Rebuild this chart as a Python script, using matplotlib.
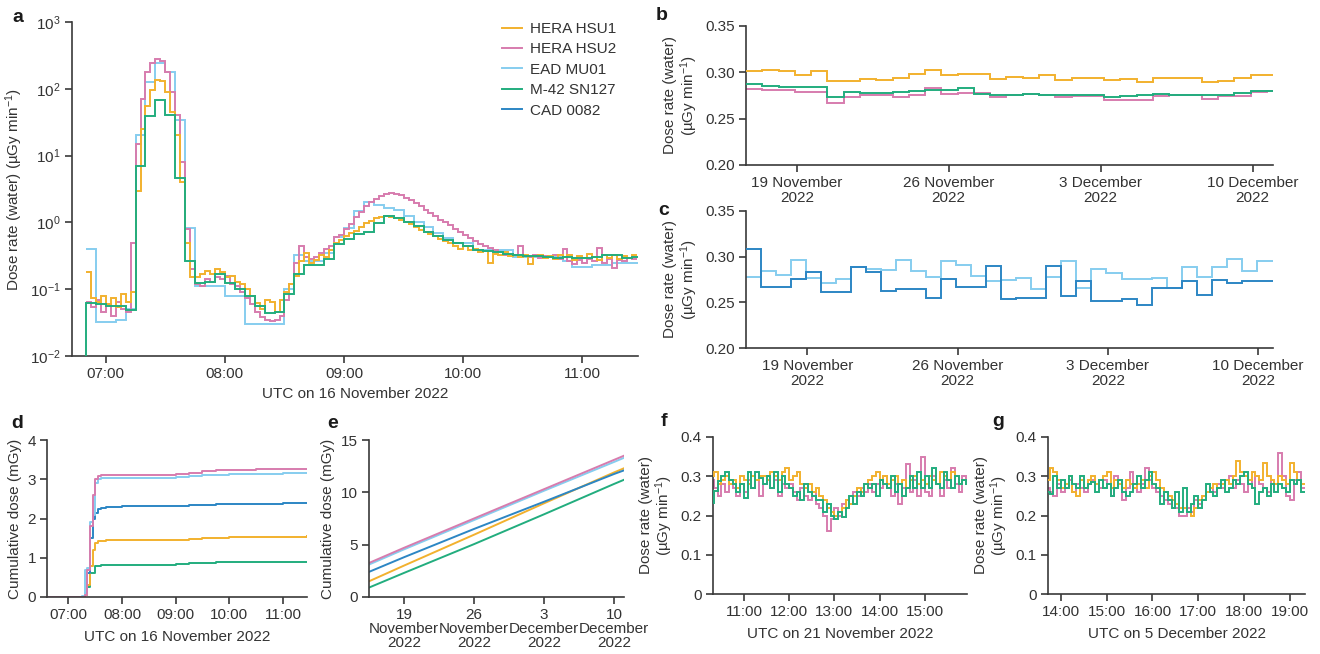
import numpy as np
import matplotlib
matplotlib.use('Agg')
import matplotlib.pyplot as plt

plt.rcParams['font.family'] = ['Liberation Sans', 'DejaVu Sans']
plt.rcParams['mathtext.default'] = 'regular'

# ---------------- DATA ----------------
names = ['HERA HSU1', 'HERA HSU2', 'EAD MU01', 'M-42 SN127', 'CAD 0082']
col_orange, col_pink, col_light, col_green, col_dark = '#F2B12E', '#D77CAE', '#86CDEF', '#22AD7E', '#2C86C4'

# panel a: dose rate on 16 Nov 2022 (uGy/min); hours UTC
a_fine_start = 6 + 50 / 60      # 2.5-min bins
a_fine_step = 2.5 / 60
a_orange = [0.18, 0.075, 0.065, 0.08, 0.06, 0.075, 0.055, 0.085, 0.065, 0.09,
            3.0, 25, 55, 95, 135, 130, 90, 45, 20, 4,
            0.5, 0.15, 0.15, 0.17, 0.19, 0.17, 0.20, 0.18, 0.15, 0.16,
            0.13, 0.12, 0.10, 0.08, 0.063, 0.05, 0.07, 0.065, 0.045, 0.07,
            0.09, 0.12, 0.16, 0.26, 0.35, 0.25, 0.27, 0.32, 0.30, 0.38,
            0.50, 0.55, 0.62, 0.70, 0.75, 0.85, 0.98, 1.05, 1.15, 1.22,
            1.25, 1.22, 1.18, 1.10, 1.02, 0.95, 0.85, 0.78, 0.72, 0.66,
            0.62, 0.56, 0.52, 0.50, 0.45, 0.40, 0.44, 0.38, 0.40, 0.36,
            0.37, 0.25, 0.34, 0.33, 0.36, 0.31, 0.33, 0.30, 0.32, 0.24,
            0.31, 0.33, 0.29, 0.31, 0.28, 0.32, 0.30, 0.33, 0.27, 0.31,
            0.29, 0.34, 0.30, 0.27, 0.32, 0.29, 0.33, 0.28, 0.31, 0.29, 0.32]
a_pink = [0.065, 0.055, 0.07, 0.045, 0.06, 0.04, 0.065, 0.05, 0.045, 0.5,
          15, 70, 180, 240, 275, 265, 180, 90, 40, 8,
          0.8, 0.2, 0.12, 0.11, 0.14, 0.13, 0.15, 0.14, 0.16, 0.12,
          0.11, 0.09, 0.075, 0.06, 0.045, 0.038, 0.035, 0.033, 0.035, 0.04,
          0.07, 0.12, 0.25, 0.45, 0.30, 0.28, 0.30, 0.35, 0.40, 0.45,
          0.60, 0.65, 0.80, 0.95, 1.20, 1.45, 1.75, 2.00, 2.25, 2.45,
          2.65, 2.75, 2.70, 2.55, 2.35, 2.15, 1.95, 1.75, 1.55, 1.40,
          1.25, 1.10, 1.00, 0.90, 0.80, 0.72, 0.65, 0.58, 0.52, 0.48,
          0.45, 0.42, 0.38, 0.36, 0.33, 0.34, 0.32, 0.45, 0.31, 0.30,
          0.33, 0.29, 0.31, 0.30, 0.32, 0.28, 0.40, 0.26, 0.24, 0.27,
          0.25, 0.28, 0.26, 0.42, 0.25, 0.28, 0.21, 0.27, 0.26, 0.29, 0.28]
a_coarse_step = 5 / 60          # 5-min bins
a_green_start = 6 + 45 / 60
a_green = [0.001, 0.063, 0.060, 0.057, 0.057, 0.048, 6.9, 39, 68, 40, 4.6,
           0.26, 0.125, 0.13, 0.17, 0.125, 0.10, 0.08, 0.056, 0.044, 0.045,
           0.085, 0.17, 0.23, 0.23, 0.28, 0.48, 0.56, 0.66, 0.73, 0.98,
           1.23, 1.17, 1.03, 0.89, 0.73, 0.63, 0.55, 0.50, 0.44, 0.39,
           0.37, 0.36, 0.34, 0.32, 0.31, 0.31, 0.30, 0.29, 0.30, 0.29,
           0.29, 0.30, 0.33, 0.33, 0.29, 0.30]
a_light_start = 6 + 50 / 60
a_light = [0.40, 0.032, 0.032, 0.034, 0.05, 20, 127, 240, 180, 34,
           0.83, 0.11, 0.11, 0.11, 0.079, 0.079, 0.030, 0.030, 0.030, 0.030,
           0.10, 0.33, 0.26, 0.26, 0.35, 0.60, 0.82, 1.5, 1.99, 1.83,
           1.64, 1.55, 1.23, 1.0, 0.84, 0.69, 0.58, 0.49, 0.49, 0.39,
           0.39, 0.39, 0.38, 0.30, 0.30, 0.30, 0.30, 0.30, 0.26, 0.215,
           0.215, 0.23, 0.23, 0.25, 0.25, 0.25]
a_xticks = [7, 8, 9, 10, 11]
a_xticklabels = ['07:00', '08:00', '09:00', '10:00', '11:00']
a_yticks = [1e-2, 1e-1, 1e0, 1e1, 1e2, 1e3]
a_yticklabels = ['10$^{-2}$', '10$^{-1}$', '10$^{0}$', '10$^{1}$', '10$^{2}$', '10$^{3}$']

# panel b: HERA HSU1, HERA HSU2, M-42 (day of November; December = 30 + day)
b_start = 16.66
b_step = 0.75
b_orange = [0.301, 0.303, 0.301, 0.297, 0.301, 0.291, 0.291, 0.293, 0.292, 0.294,
            0.298, 0.302, 0.297, 0.298, 0.298, 0.293, 0.295, 0.294, 0.297, 0.292,
            0.294, 0.294, 0.292, 0.293, 0.290, 0.294, 0.294, 0.294, 0.290, 0.291,
            0.294, 0.297, 0.297]
b_green = [0.287, 0.285, 0.284, 0.284, 0.284, 0.273, 0.279, 0.278, 0.278, 0.279,
           0.280, 0.281, 0.281, 0.283, 0.277, 0.275, 0.276, 0.277, 0.276, 0.276,
           0.275, 0.275, 0.273, 0.274, 0.276, 0.277, 0.276, 0.275, 0.275, 0.276,
           0.278, 0.280, 0.280]
b_pink = [0.282, 0.281, 0.281, 0.279, 0.279, 0.267, 0.273, 0.276, 0.275, 0.273,
          0.276, 0.283, 0.277, 0.278, 0.278, 0.273, 0.275, 0.277, 0.276, 0.273,
          0.274, 0.274, 0.270, 0.270, 0.270, 0.274, 0.275, 0.275, 0.271, 0.274,
          0.274, 0.279, 0.280]
# panel c: EAD MU01, CAD 0082
c_start = 16.14
c_step = 0.7
c_light = [0.278, 0.284, 0.280, 0.296, 0.277, 0.271, 0.276, 0.289, 0.287, 0.285,
           0.296, 0.284, 0.278, 0.295, 0.291, 0.279, 0.273, 0.274, 0.277, 0.265,
           0.278, 0.295, 0.266, 0.287, 0.282, 0.276, 0.276, 0.277, 0.266, 0.289,
           0.278, 0.289, 0.297, 0.284, 0.295, 0.295]
c_dark = [0.308, 0.267, 0.267, 0.276, 0.283, 0.261, 0.261, 0.289, 0.283, 0.262,
          0.265, 0.265, 0.255, 0.276, 0.267, 0.267, 0.290, 0.254, 0.255, 0.255,
          0.290, 0.257, 0.273, 0.251, 0.251, 0.254, 0.247, 0.266, 0.266, 0.273,
          0.258, 0.274, 0.271, 0.273, 0.273, 0.273]
bc_xticks = [19, 26, 33, 40]
bc_xticklabels = ['19 November\n2022', '26 November\n2022', '3 December\n2022', '10 December\n2022']

# panel d: cumulative dose (mGy) on 16 Nov
d_time = [6.62, 7.25, 7.30, 7.35, 7.40, 7.45, 7.50, 7.55, 7.60, 7.70,
          8.0, 9.0, 9.25, 9.5, 9.75, 10.0, 10.5, 11.0, 11.45]
d_pink = [0.01, 0.01, 0.05, 0.7, 1.8, 2.6, 3.0, 3.08, 3.10, 3.12,
          3.12, 3.13, 3.16, 3.20, 3.23, 3.24, 3.25, 3.26, 3.27]
d_light = [0.01, 0.02, 0.7, 0.75, 1.9, 2.1, 2.9, 3.0, 3.02, 3.03,
           3.03, 3.05, 3.08, 3.11, 3.12, 3.13, 3.14, 3.15, 3.15]
d_dark = [0.01, 0.01, 0.1, 0.6, 1.5, 2.0, 2.15, 2.25, 2.28, 2.30,
          2.31, 2.32, 2.34, 2.35, 2.36, 2.37, 2.38, 2.40, 2.40]
d_orange = [0.01, 0.01, 0.05, 0.3, 0.8, 1.2, 1.38, 1.42, 1.43, 1.44,
            1.44, 1.46, 1.48, 1.50, 1.51, 1.52, 1.53, 1.54, 1.55]
d_green = [0.0, 0.0, 0.05, 0.25, 0.6, 0.6, 0.78, 0.8, 0.81, 0.82,
           0.82, 0.84, 0.86, 0.87, 0.88, 0.89, 0.89, 0.90, 0.90]

# panel e: cumulative dose (mGy) over the mission
e_days = [15.5, 19, 26, 33, 40, 41]
e_pink = [3.25, 4.7, 7.5, 10.3, 13.1, 13.5]
e_light = [3.1, 4.55, 7.35, 10.15, 12.9, 13.3]
e_dark = [2.4, 3.8, 6.5, 9.1, 11.75, 12.1]
e_orange = [1.5, 3.0, 5.95, 8.95, 11.9, 12.3]
e_green = [0.9, 2.3, 5.05, 7.9, 10.8, 11.2]
e_xticks = [19, 26, 33, 40]
e_xticklabels = ['19\nNovember\n2022', '26\nNovember\n2022', '3\nDecember\n2022', '10\nDecember\n2022']

# panel f: 21 Nov 2022, 5-min bins
f_start = 10 + 15 / 60
f_green = [0.232, 0.262, 0.288, 0.30, 0.31, 0.29, 0.28, 0.26, 0.28, 0.245,
           0.31, 0.27, 0.31, 0.295, 0.28, 0.30, 0.27, 0.31, 0.26, 0.30,
           0.28, 0.27, 0.25, 0.26, 0.24, 0.28, 0.26, 0.25, 0.24, 0.24,
           0.21, 0.23, 0.20, 0.19, 0.21, 0.195, 0.22, 0.25, 0.23, 0.26,
           0.25, 0.28, 0.27, 0.28, 0.25, 0.29, 0.28, 0.27, 0.30, 0.26,
           0.28, 0.25, 0.27, 0.30, 0.27, 0.31, 0.27, 0.30, 0.27, 0.32,
           0.28, 0.27, 0.31, 0.29, 0.27, 0.30, 0.28, 0.29, 0.28]
f_orange = [0.30, 0.31, 0.28, 0.29, 0.30, 0.28, 0.29, 0.27, 0.30, 0.29,
            0.28, 0.30, 0.29, 0.30, 0.30, 0.29, 0.31, 0.30, 0.29, 0.31,
            0.32, 0.29, 0.30, 0.31, 0.28, 0.27, 0.28, 0.26, 0.27, 0.25,
            0.24, 0.22, 0.21, 0.20, 0.21, 0.22, 0.24, 0.23, 0.25, 0.27,
            0.26, 0.28, 0.29, 0.30, 0.31, 0.29, 0.30, 0.28, 0.29, 0.30,
            0.28, 0.29, 0.27, 0.29, 0.30, 0.28, 0.29, 0.28, 0.30, 0.29,
            0.28, 0.31, 0.30, 0.29, 0.31, 0.30, 0.28, 0.29, 0.28]
f_pink = [0.29, 0.27, 0.25, 0.28, 0.26, 0.29, 0.27, 0.25, 0.28, 0.26,
          0.29, 0.27, 0.29, 0.25, 0.28, 0.30, 0.27, 0.29, 0.25, 0.28,
          0.27, 0.28, 0.26, 0.24, 0.27, 0.25, 0.24, 0.26, 0.23, 0.22,
          0.20, 0.16, 0.19, 0.22, 0.20, 0.23, 0.24, 0.23, 0.26, 0.25,
          0.27, 0.26, 0.28, 0.26, 0.28, 0.27, 0.30, 0.27, 0.25, 0.28,
          0.23, 0.27, 0.33, 0.26, 0.29, 0.25, 0.35, 0.26, 0.25, 0.30,
          0.28, 0.25, 0.29, 0.27, 0.32, 0.28, 0.26, 0.30, 0.28]
f_xticks = [11, 12, 13, 14, 15]
f_xticklabels = ['11:00', '12:00', '13:00', '14:00', '15:00']

# panel g: 5 Dec 2022, 5-min bins
g_start = 13 + 40 / 60
g_green = [0.26, 0.255, 0.30, 0.27, 0.29, 0.27, 0.30, 0.28, 0.27, 0.30,
           0.27, 0.28, 0.285, 0.26, 0.29, 0.27, 0.28, 0.25, 0.27, 0.29,
           0.26, 0.25, 0.26, 0.28, 0.30, 0.27, 0.29, 0.31, 0.28, 0.27,
           0.23, 0.26, 0.24, 0.22, 0.26, 0.21, 0.27, 0.21, 0.23, 0.25,
           0.22, 0.24, 0.28, 0.26, 0.25, 0.27, 0.29, 0.26, 0.27, 0.29,
           0.28, 0.30, 0.31, 0.28, 0.27, 0.23, 0.26, 0.27, 0.25, 0.28,
           0.26, 0.28, 0.27, 0.26, 0.29, 0.28, 0.29, 0.26]
g_orange = [0.29, 0.32, 0.31, 0.29, 0.27, 0.28, 0.30, 0.26, 0.25, 0.29,
            0.27, 0.29, 0.30, 0.28, 0.29, 0.30, 0.31, 0.27, 0.29, 0.28,
            0.27, 0.29, 0.28, 0.27, 0.28, 0.29, 0.27, 0.30, 0.31, 0.29,
            0.27, 0.26, 0.25, 0.24, 0.23, 0.22, 0.22, 0.21, 0.20, 0.22,
            0.24, 0.25, 0.26, 0.27, 0.28, 0.27, 0.28, 0.29, 0.28, 0.30,
            0.34, 0.31, 0.30, 0.29, 0.31, 0.30, 0.29, 0.335, 0.30, 0.29,
            0.28, 0.30, 0.29, 0.28, 0.335, 0.31, 0.29, 0.28]
g_pink = [0.27, 0.26, 0.25, 0.28, 0.26, 0.27, 0.29, 0.26, 0.28, 0.27,
          0.26, 0.28, 0.29, 0.28, 0.27, 0.29, 0.28, 0.25, 0.30, 0.29,
          0.24, 0.27, 0.31, 0.27, 0.26, 0.28, 0.32, 0.29, 0.27, 0.26,
          0.25, 0.24, 0.23, 0.24, 0.22, 0.20, 0.20, 0.22, 0.21, 0.24,
          0.23, 0.25, 0.26, 0.27, 0.26, 0.28, 0.27, 0.29, 0.30, 0.27,
          0.29, 0.28, 0.26, 0.29, 0.27, 0.30, 0.28, 0.27, 0.26, 0.29,
          0.28, 0.36, 0.30, 0.25, 0.24, 0.29, 0.31, 0.27]
g_xticks = [14, 15, 16, 17, 18, 19]
g_xticklabels = ['14:00', '15:00', '16:00', '17:00', '18:00', '19:00']

# ---------------- FIGURE ----------------
W, H = 1320, 654
fig = plt.figure(figsize=(W / 100, H / 100), dpi=100)
AX_COL = '#3a3a3a'
LW = 1.4
FS = 11


def add_ax(l, t, r, b):
    return fig.add_axes([l / W, 1 - b / H, (r - l) / W, (b - t) / H])


def style(ax):
    for s in ('top', 'right'):
        ax.spines[s].set_visible(False)
    for s in ('left', 'bottom'):
        ax.spines[s].set_color(AX_COL)
        ax.spines[s].set_linewidth(1.2)
    ax.tick_params(direction='out', length=5, width=1.2, color=AX_COL,
                   labelsize=FS, labelcolor='#333333', pad=3)
    ax.minorticks_off()


def stairs(ax, vals, start, step, color, z=2):
    edges = start + step * np.arange(len(vals) + 1)
    ax.stairs(vals, edges, baseline=None, color=color, lw=LW, zorder=z)


ylab2 = 'Dose rate (water)\n(µGy min$^{-1}$)'

# ---- panel a
ax = add_ax(72, 22, 638, 356)
stairs(ax, a_light, a_light_start, a_coarse_step, col_light, 2)
stairs(ax, a_pink, a_fine_start, a_fine_step, col_pink, 3)
stairs(ax, a_orange, a_fine_start, a_fine_step, col_orange, 4)
stairs(ax, a_green, a_green_start, a_coarse_step, col_green, 5)
ax.set_yscale('log')
ax.set_ylim(1e-2, 1e3)
ax.set_xlim(6 + 43 / 60, 11 + 28 / 60)
ax.set_yticks(a_yticks)
ax.set_yticklabels(a_yticklabels)
ax.set_xticks(a_xticks)
ax.set_xticklabels(a_xticklabels)
style(ax)
ax.set_ylabel('Dose rate (water) (µGy min$^{-1}$)', fontsize=FS, color='#333333', labelpad=4)
ax.set_xlabel('UTC on 16 November 2022', fontsize=FS, color='#333333', labelpad=4)
handles = [plt.Line2D([], [], color=c, lw=LW) for c in (col_orange, col_pink, col_light, col_green, col_dark)]
fig.legend(handles, names, loc='upper left', bbox_to_anchor=(502 / W, 1 - 22 / H),
           frameon=False, fontsize=FS, handlelength=1.3, handletextpad=0.5,
           labelspacing=0.42, borderpad=0, borderaxespad=0, labelcolor='#333333')

# ---- panel b
ax = add_ax(746, 26, 1273, 165)
stairs(ax, b_pink, b_start, b_step, col_pink, 2)
stairs(ax, b_green, b_start, b_step, col_green, 3)
stairs(ax, b_orange, b_start, b_step, col_orange, 4)
ax.set_xlim(16.66, 40.94)
ax.set_ylim(0.20, 0.35)
ax.set_yticks([0.20, 0.25, 0.30, 0.35])
ax.set_yticklabels(['0.20', '0.25', '0.30', '0.35'])
ax.set_xticks(bc_xticks)
ax.set_xticklabels(bc_xticklabels, linespacing=1.05)
style(ax)
ax.set_ylabel(ylab2, fontsize=FS, color='#333333', labelpad=4, linespacing=1.05)

# ---- panel c
ax = add_ax(746, 211, 1273, 348)
stairs(ax, c_light, c_start, c_step, col_light, 2)
stairs(ax, c_dark, c_start, c_step, col_dark, 3)
ax.set_xlim(16.14, 40.70)
ax.set_ylim(0.20, 0.35)
ax.set_yticks([0.20, 0.25, 0.30, 0.35])
ax.set_yticklabels(['0.20', '0.25', '0.30', '0.35'])
ax.set_xticks(bc_xticks)
ax.set_xticklabels(bc_xticklabels, linespacing=1.05)
style(ax)
ax.set_ylabel(ylab2, fontsize=FS, color='#333333', labelpad=4, linespacing=1.05)

# ---- panel d
ax = add_ax(47, 440, 307, 597)
for vals, c in ((d_green, col_green), (d_orange, col_orange), (d_dark, col_dark),
                (d_light, col_light), (d_pink, col_pink)):
    ax.plot(d_time, vals, color=c, lw=LW, drawstyle='steps-post')
ax.set_xlim(6 + 36 / 60, 11 + 27 / 60)
ax.set_ylim(0, 4)
ax.set_yticks([0, 1, 2, 3, 4])
ax.set_xticks(a_xticks)
ax.set_xticklabels(a_xticklabels)
style(ax)
ax.set_ylabel('Cumulative dose (mGy)', fontsize=FS, color='#333333', labelpad=4)
ax.set_xlabel('UTC on 16 November 2022', fontsize=FS, color='#333333', labelpad=6)

# ---- panel e
ax = add_ax(369, 440, 624, 597)
for vals, c in ((e_green, col_green), (e_orange, col_orange), (e_dark, col_dark),
                (e_light, col_light), (e_pink, col_pink)):
    ax.plot(e_days, vals, color=c, lw=LW)
ax.set_xlim(15.5, 41.0)
ax.set_ylim(0, 15)
ax.set_yticks([0, 5, 10, 15])
ax.set_xticks(e_xticks)
ax.set_xticklabels(e_xticklabels, linespacing=1.0)
style(ax)
ax.set_ylabel('Cumulative dose (mGy)', fontsize=FS, color='#333333', labelpad=4)

# ---- panel f
ax = add_ax(713, 437, 967, 594)
stairs(ax, f_pink, f_start, a_coarse_step, col_pink, 2)
stairs(ax, f_orange, f_start, a_coarse_step, col_orange, 3)
stairs(ax, f_green, f_start, a_coarse_step, col_green, 4)
ax.set_xlim(10 + 19 / 60, 15 + 56 / 60)
ax.set_ylim(0, 0.4)
ax.set_yticks([0, 0.1, 0.2, 0.3, 0.4])
ax.set_yticklabels(['0', '0.1', '0.2', '0.3', '0.4'])
ax.set_xticks(f_xticks)
ax.set_xticklabels(f_xticklabels)
style(ax)
ax.set_ylabel(ylab2, fontsize=FS, color='#333333', labelpad=4, linespacing=1.05)
ax.set_xlabel('UTC on 21 November 2022', fontsize=FS, color='#333333', labelpad=6)

# ---- panel g
ax = add_ax(1048, 437, 1305, 594)
stairs(ax, g_pink, g_start, a_coarse_step, col_pink, 2)
stairs(ax, g_orange, g_start, a_coarse_step, col_orange, 3)
stairs(ax, g_green, g_start, a_coarse_step, col_green, 4)
ax.set_xlim(13 + 43 / 60, 19 + 20 / 60)
ax.set_ylim(0, 0.4)
ax.set_yticks([0, 0.1, 0.2, 0.3, 0.4])
ax.set_yticklabels(['0', '0.1', '0.2', '0.3', '0.4'])
ax.set_xticks(g_xticks)
ax.set_xticklabels(g_xticklabels)
style(ax)
ax.set_ylabel(ylab2, fontsize=FS, color='#333333', labelpad=4, linespacing=1.05)
ax.set_xlabel('UTC on 5 December 2022', fontsize=FS, color='#333333', labelpad=6)

# ---- panel letters
for letter, x, y in (('a', 18, 17), ('b', 662, 16), ('c', 664, 210),
                     ('d', 17, 424), ('e', 333, 424), ('f', 664, 421), ('g', 998, 421)):
    fig.text(x / W, 1 - y / H, letter, fontsize=14, fontweight='bold',
             ha='center', va='center', color='#1a1a1a')

fig.savefig('out.png', dpi=100)
